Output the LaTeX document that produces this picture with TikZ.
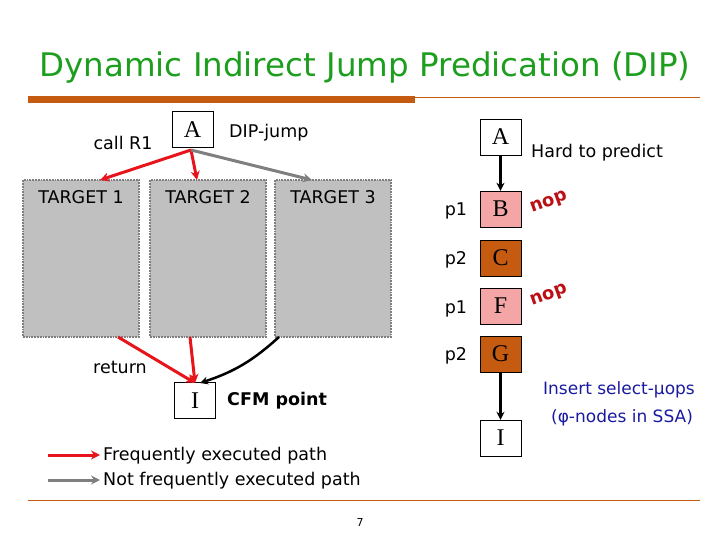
\documentclass[tikz,border=0pt]{standalone}
\usepackage{fontspec}
\setmainfont{DejaVu Sans}
\newfontfamily\serifbox{Liberation Serif}
\usetikzlibrary{arrows.meta}
\definecolor{ttl}{HTML}{1E9E1E}
\definecolor{bar}{HTML}{C55A11}
\definecolor{pinkb}{HTML}{F4A6A6}
\definecolor{tgt}{HTML}{C0C0C0}
\definecolor{redA}{HTML}{E8141C}
\definecolor{grayA}{HTML}{7F7F7F}
\definecolor{blueT}{HTML}{1A1AA0}
\tikzset{
 blk/.style={draw=black,minimum width=41pt,minimum height=36pt,inner sep=0pt,font=\serifbox\fontsize{24}{24}\selectfont},
 tbox/.style={draw=grayA,densely dotted,line width=1.8pt,fill=tgt,minimum width=116pt,minimum height=157pt,inner sep=0pt},
 lbl/.style={font=\fontsize{17.5}{17.5}\selectfont},
 redar/.style={draw=redA,line width=3pt,-{Stealth[length=9pt,width=9pt]}},
 grayar/.style={draw=grayA,line width=3pt,-{Stealth[length=9pt,width=9pt]}},
 blkar/.style={draw=black,line width=2.5pt,-{Stealth[length=8pt,width=8pt]}},
 nop/.style={text=redA!80!black,font=\bfseries\fontsize{18}{18}\selectfont,rotate=20,inner sep=0pt}
}
\begin{document}
\begin{tikzpicture}[x=1pt,y=-1pt]
\useasboundingbox (0,0) rectangle (720,540);
\node[text=ttl,font=\fontsize{32.5}{32.5}\selectfont] (title) at (365,68) {Dynamic Indirect Jump Predication (DIP)};
\fill[bar] (28,96) rectangle (415,103);
\draw[bar,line width=0.6pt] (415,97) -- (700,97);
\draw[bar,line width=0.6pt] (28,500) -- (700,500);
\node[font=\fontsize{11}{11}\selectfont] (pg) at (360,522) {7};
% left
\node[blk] (A1) at (192.5,129.5) {A};
\node[lbl,anchor=west,inner sep=0pt] (dip) at (229,133) {DIP-jump};
\node[lbl] (call) at (123,143) {call R1};
\node[tbox] (T1) at (81,258.5) {};
\node[tbox] (T2) at (208,258.5) {};
\node[tbox] (T3) at (333,258.5) {};
\node[lbl] (t1l) at (81,197) {TARGET 1};
\node[lbl] (t2l) at (208,197) {TARGET 2};
\node[lbl] (t3l) at (333,197) {TARGET 3};
\node[blk] (I1) at (195,400.5) {I};
\node[lbl,font=\bfseries\fontsize{17.5}{17.5}\selectfont,anchor=west,inner sep=0pt] (cfm) at (227,401) {CFM point};
\node[lbl] (ret) at (120,367) {return};
\coordinate (a1) at (191,150);
\draw[redar] (a1) -- (100,180);
\draw[redar] (a1) -- (197,180);
\draw[grayar] (a1) -- (312,180);
\draw[redar] (118,337) -- (195,383);
\draw[redar] (190,337) -- (195,383);
\draw[black,line width=2.5pt,-{Stealth[length=8pt,width=8pt]}] (279,337) to[bend left=12] (200,383);
% legend
\coordinate (l1a) at (48,455); \coordinate (l1b) at (100,455);
\coordinate (l2a) at (48,480); \coordinate (l2b) at (100,480);
\draw[redar] (l1a) -- (l1b);
\draw[grayar] (l2a) -- (l2b);
\node[lbl,anchor=west,inner sep=0pt] (lg1) at (103,456) {Frequently executed path};
\node[lbl,anchor=west,inner sep=0pt] (lg2) at (103,481) {Not frequently executed path};
% right
\node[blk] (A2) at (500.5,137) {A};
\node[blk,fill=pinkb] (B) at (500.5,209) {B};
\node[blk,fill=bar] (C) at (500.5,258) {C};
\node[blk,fill=pinkb] (F) at (500.5,306) {F};
\node[blk,fill=bar] (G) at (500.5,354) {G};
\node[blk] (I2) at (500.5,438) {I};
\draw[blkar] (A2) -- (B);
\draw[blkar] (G) -- (I2);
\node[lbl,anchor=west,inner sep=0pt] (hard) at (531,153) {Hard to predict};
\node[lbl] (p1a) at (456,211) {p1};
\node[lbl] (p2a) at (456,260) {p2};
\node[lbl] (p1b) at (456,309) {p1};
\node[lbl] (p2b) at (456,356) {p2};
\node[nop] (n1) at (549,203) {nop};
\node[nop] (n2) at (549,296) {nop};
\node[text=blueT,font=\fontsize{17}{17}\selectfont] (ins) at (619,390) {Insert select-μops};
\node[text=blueT,font=\fontsize{17}{17}\selectfont] (phi) at (622,418) {(φ-nodes in SSA)};
\end{tikzpicture}
\end{document}
